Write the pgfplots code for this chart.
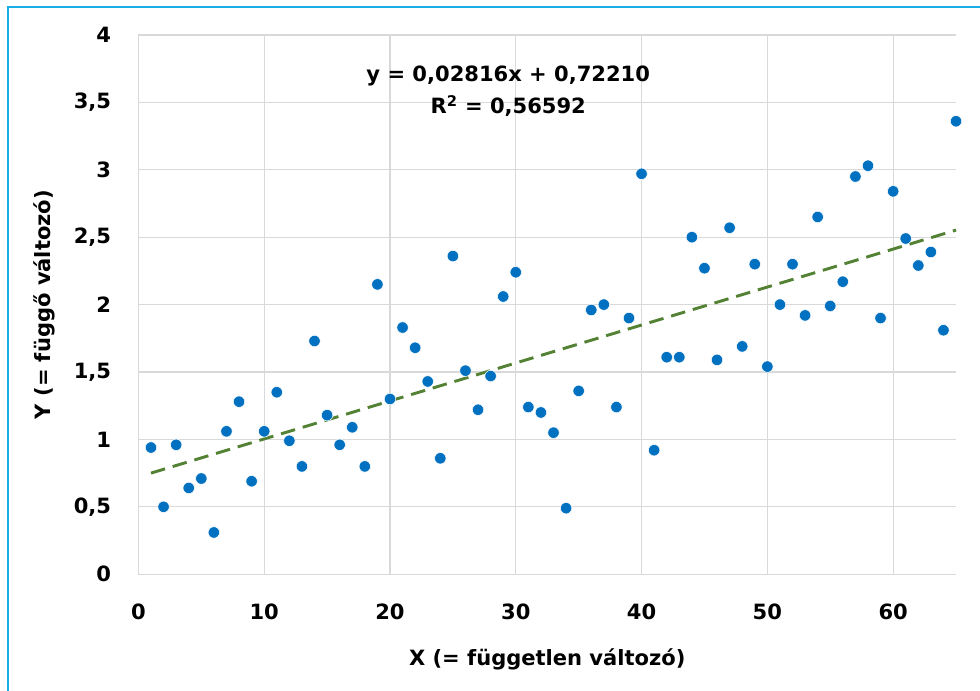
\documentclass[border=0pt]{standalone}
\usepackage{pgfplots}
\pgfplotsset{compat=1.18}
\usetikzlibrary{calc}
\usepackage{fontspec}
\setmainfont{DejaVu Sans}
\definecolor{dotblue}{HTML}{0070C0}
\definecolor{trendgreen}{HTML}{548235}
\definecolor{gridgray}{HTML}{D9D9D9}
\definecolor{frameblue}{HTML}{1AAEE8}

\pgfplotstableread{
x y
1 0.94
2 0.50
3 0.96
4 0.64
5 0.71
6 0.31
7 1.06
8 1.28
9 0.69
10 1.06
11 1.35
12 0.99
13 0.80
14 1.73
15 1.18
16 0.96
17 1.09
18 0.80
19 2.15
20 1.30
21 1.83
22 1.68
23 1.43
24 0.86
25 2.36
26 1.51
27 1.22
28 1.47
29 2.06
30 2.24
31 1.24
32 1.20
33 1.05
34 0.49
35 1.36
36 1.96
37 2.00
38 1.24
39 1.90
40 2.97
41 0.92
42 1.61
43 1.61
44 2.50
45 2.27
46 1.59
47 2.57
48 1.69
49 2.30
50 1.54
51 2.00
52 2.30
53 1.92
54 2.65
55 1.99
56 2.17
57 2.95
58 3.03
59 1.90
60 2.84
61 2.49
62 2.29
63 2.39
64 1.81
65 3.36
}\datatable

\begin{document}
\begin{tikzpicture}
\begin{axis}[
    name=ax,
    scale only axis,
    width=614pt, height=405pt,
    xmin=0, xmax=65,
    ymin=0, ymax=4,
    xtick={0,10,...,60},
    ytick={0,0.5,...,4},
    grid=major,
    major grid style={line width=0.9pt, draw=gridgray},
    axis line style={line width=0.9pt, draw=gridgray},
    axis x line*=bottom,
    axis y line*=left,
    x axis line style={-},
    y axis line style={-},
    tick style={draw=none},
    /pgf/number format/use comma,
    /pgf/number format/assume math mode=true,
    ticklabel style={font=\fontsize{15.8}{18}\selectfont\bfseries},
    yticklabel style={xshift=-17pt},
    xticklabel style={yshift=-19pt},
    label style={font=\fontsize{15.8}{18}\selectfont\bfseries},
    xlabel={X (= független változó)},
    ylabel={Y (= függő változó)},
    xlabel style={at={(axis description cs:0.5,0)}, yshift=-52pt},
    ylabel style={at={(axis description cs:0,0.5)}, yshift=59pt},
    clip=false,
]
\addplot[only marks, mark=*, mark size=4.3pt,
    mark options={fill=dotblue, draw=white, line width=0.4pt}]
    table[x=x, y=y] {\datatable};
\addplot[trendgreen, line width=2.2pt, dash pattern=on 11pt off 6pt]
    coordinates {(1,0.75026) (65,2.55250)};
\node[font=\fontsize{15.8}{18}\selectfont\bfseries, align=center]
    at (axis cs:29.4,3.58) {y = 0,02816x + 0,72210\\[6pt] R$^{\mathbf{2}}$ = 0,56592};
\end{axis}
\path (ax.south west) ++(-103.95pt,-87pt) coordinate (bbsw);
\path (ax.north east) ++(18pt,26.25pt) coordinate (bbne);
\useasboundingbox (bbsw) rectangle (bbne);
\draw[frameblue, line width=1.8pt]
    ($(ax.south west)+(-98pt,-90pt)$) -- ($(ax.north west)+(-98pt,21pt)$) -- ($(ax.north east)+(20pt,21pt)$);
\end{tikzpicture}
\end{document}
